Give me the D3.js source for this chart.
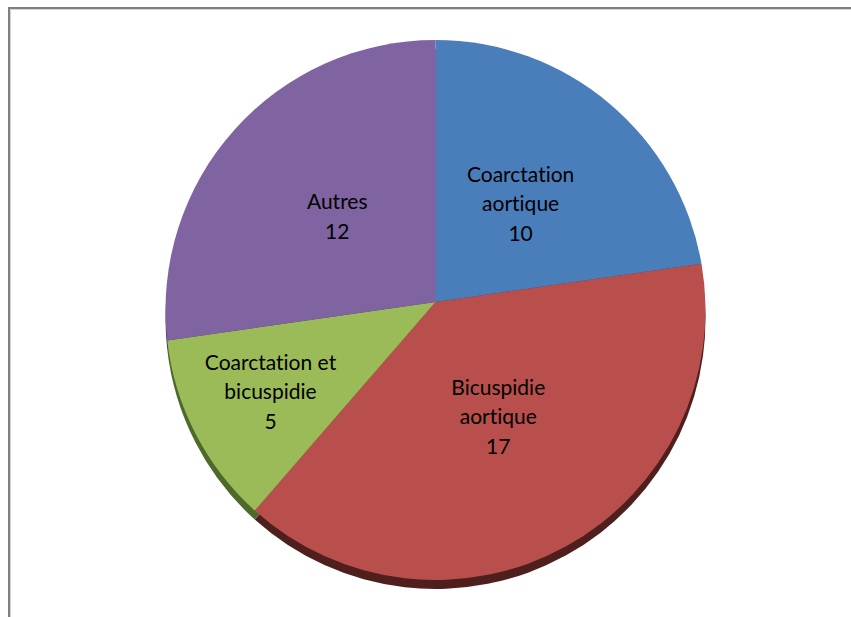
<!DOCTYPE html>
<html>
<head>
<meta charset="utf-8">
<script src="https://cdn.jsdelivr.net/npm/d3@7"></script>
<style>
body { margin: 0; background: #fff; }
svg { display: block; }
text { font-family: Lato, "Open Sans", sans-serif; font-size: 21px; fill: #000; font-variant-ligatures: none; }
</style>
</head>
<body>
<svg width="851" height="617"></svg>
<script>
var categories = ["Coarctation\naortique", "Bicuspidie\naortique", "Coarctation et\nbicuspidie", "Autres"];
var values = [10, 17, 5, 12];
var colors = ["#4a7ebb", "#b84f4c", "#9bbb59", "#8064a2"];
var sideColors = ["#2c4d75", "#4f1f1e", "#4e6a2a", "#4a3a60"];

var svg = d3.select("svg");

// frame (only top and left edges are inside the picture)
svg.append("path")
.attr("d", "M9,617 V8 H851")
.attr("fill", "none")
.attr("stroke", "#7f7f7f")
.attr("stroke-width", 2);
svg.append("path")
.attr("d", "M10.5,617 V9.5 H851")
.attr("fill", "none")
.attr("stroke", "#d4d4d4")
.attr("stroke-width", 1);

var r = 270;
var cx = 435.5, cy = 310;      // outline circle
var ax = 435.5, ay = 302;      // apex of the slices (slight 3d tilt)
var depth = 9;

var pie = d3.pie().sort(null).value(function(d) { return d; });
var arcs = pie(values);

// point where a ray from the apex at angle a meets the outline
function rim(a) {
  var dx = Math.sin(a), dy = -Math.cos(a);
  var b = dx * (ax - cx) + dy * (ay - cy);
  var c = (ax - cx) * (ax - cx) + (ay - cy) * (ay - cy) - r * r;
  var t = -b + Math.sqrt(b * b - c);
  return [ax + t * dx, ay + t * dy];
}

function slicePath(d, off) {
  var p0 = rim(d.startAngle), p1 = rim(d.endAngle);
  var a0 = Math.atan2(p0[1] - cy, p0[0] - cx);
  var a1 = Math.atan2(p1[1] - cy, p1[0] - cx);
  var span = a1 - a0;
  if (span < 0) span += 2 * Math.PI;
  var p = d3.path();
  p.moveTo(ax, ay + off);
  p.lineTo(p0[0], p0[1] + off);
  p.arc(cx, cy + off, r, a0, a0 + span, false);
  p.closePath();
  return p.toString();
}

var g = svg.append("g");

// side of the pie
g.selectAll(".side")
.data(arcs)
.enter()
.append("path")
.attr("class", "side")
.attr("d", function(d) { return slicePath(d, depth); })
.attr("fill", function(d, i) { return sideColors[i]; });

g.selectAll(".slice")
.data(arcs)
.enter()
.append("path")
.attr("class", "slice")
.attr("d", function(d) { return slicePath(d, 0); })
.attr("fill", function(d, i) { return colors[i]; });

// labels
var labelDist = [130, 131, 188, 130];
var lineH = 29.5;

arcs.forEach(function(d, i) {
  var a = (d.startAngle + d.endAngle) / 2;
  var x = ax + labelDist[i] * Math.sin(a);
  var y = ay - labelDist[i] * Math.cos(a);
  var lines = categories[i].split("\n").concat([String(values[i])]);
  var t = g.append("text")
  .attr("text-anchor", "middle")
  .attr("x", x)
  .attr("y", y - (lines.length - 1) * lineH / 2);
  lines.forEach(function(s, k) {
    t.append("tspan")
    .attr("x", x)
    .attr("dy", k == 0 ? "0.35em" : lineH)
    .text(s);
  });
});
</script>
</body>
</html>
